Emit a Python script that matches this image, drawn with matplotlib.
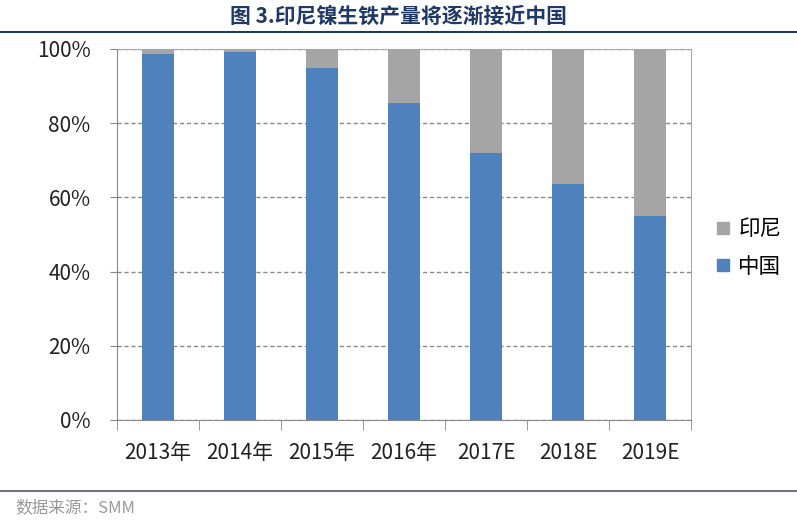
import numpy as np
import matplotlib.pyplot as plt
from matplotlib.lines import Line2D

plt.rcParams['font.family'] = ['Noto Sans CJK SC', 'DejaVu Sans']

years = ['2013年', '2014年', '2015年', '2016年', '2017E', '2018E', '2019E']
china = [98.7, 99.2, 95.0, 85.5, 71.9, 63.6, 55.1]
indonesia = [100 - v for v in china]

blue = '#4F81BD'
grey = '#A5A5A5'

fig = plt.figure(figsize=(7.97, 5.23), dpi=100)
ax = fig.add_axes([117/797, 1 - 420/523, (691-117)/797, (420-49)/523])

x = np.arange(len(years))
ax.bar(x, china, width=0.4, color=blue, label='中国', zorder=3)
ax.bar(x, indonesia, width=0.4, bottom=china, color=grey, label='印尼', zorder=3)

ax.set_xlim(-0.5, len(years) - 0.5)
ax.set_ylim(0, 100)
ax.set_yticks(np.arange(0, 101, 20))
ax.set_yticklabels([f'{v}%' for v in range(0, 101, 20)], fontsize=15, color='#222222')
ax.set_xticks(x)
ax.set_xticklabels(years, fontsize=15, color='#222222')
ax.set_xticks(np.arange(-0.5, len(years)), minor=True)
ax.tick_params(axis='x', which='major', length=0, pad=16)
ax.tick_params(axis='x', which='minor', length=7, color='#888888')
ax.tick_params(axis='y', length=5, color='#888888', pad=14)
ax.yaxis.grid(True, linestyle=(0, (3, 2)), color='#888888', linewidth=1, zorder=0)
for s in ax.spines.values():
    s.set_color('#aaaaaa')
ax.spines['left'].set_color('#888888')
ax.spines['bottom'].set_color('#888888')

handles = [Line2D([], [], marker='s', color='none', markerfacecolor=grey, markeredgecolor=grey, markersize=8),
           Line2D([], [], marker='s', color='none', markerfacecolor=blue, markeredgecolor=blue, markersize=8)]
fig.legend(handles, ['印尼', '中国'], loc='center left', bbox_to_anchor=(693/797, 1 - 248/523),
           frameon=False, fontsize=15.5, handletextpad=0.2, labelspacing=0.7, handlelength=1)

fig.text(0.5, 1 - 16/523, '图 3.印尼镍生铁产量将逐渐接近中国', ha='center', va='center',
         fontsize=15, fontweight='bold', color='#1F3864')
fig.add_artist(Line2D([0, 1], [1 - 32/523, 1 - 32/523], color='#1F3864', linewidth=1.5))
fig.add_artist(Line2D([0, 1], [1 - 491/523, 1 - 491/523], color='#555566', linewidth=1.2))
fig.text(15/797, 1 - 508/523, '数据来源：SMM', ha='left', va='center', fontsize=12,
         color='#999999', style='italic')

fig.savefig('out.png', dpi=100)
